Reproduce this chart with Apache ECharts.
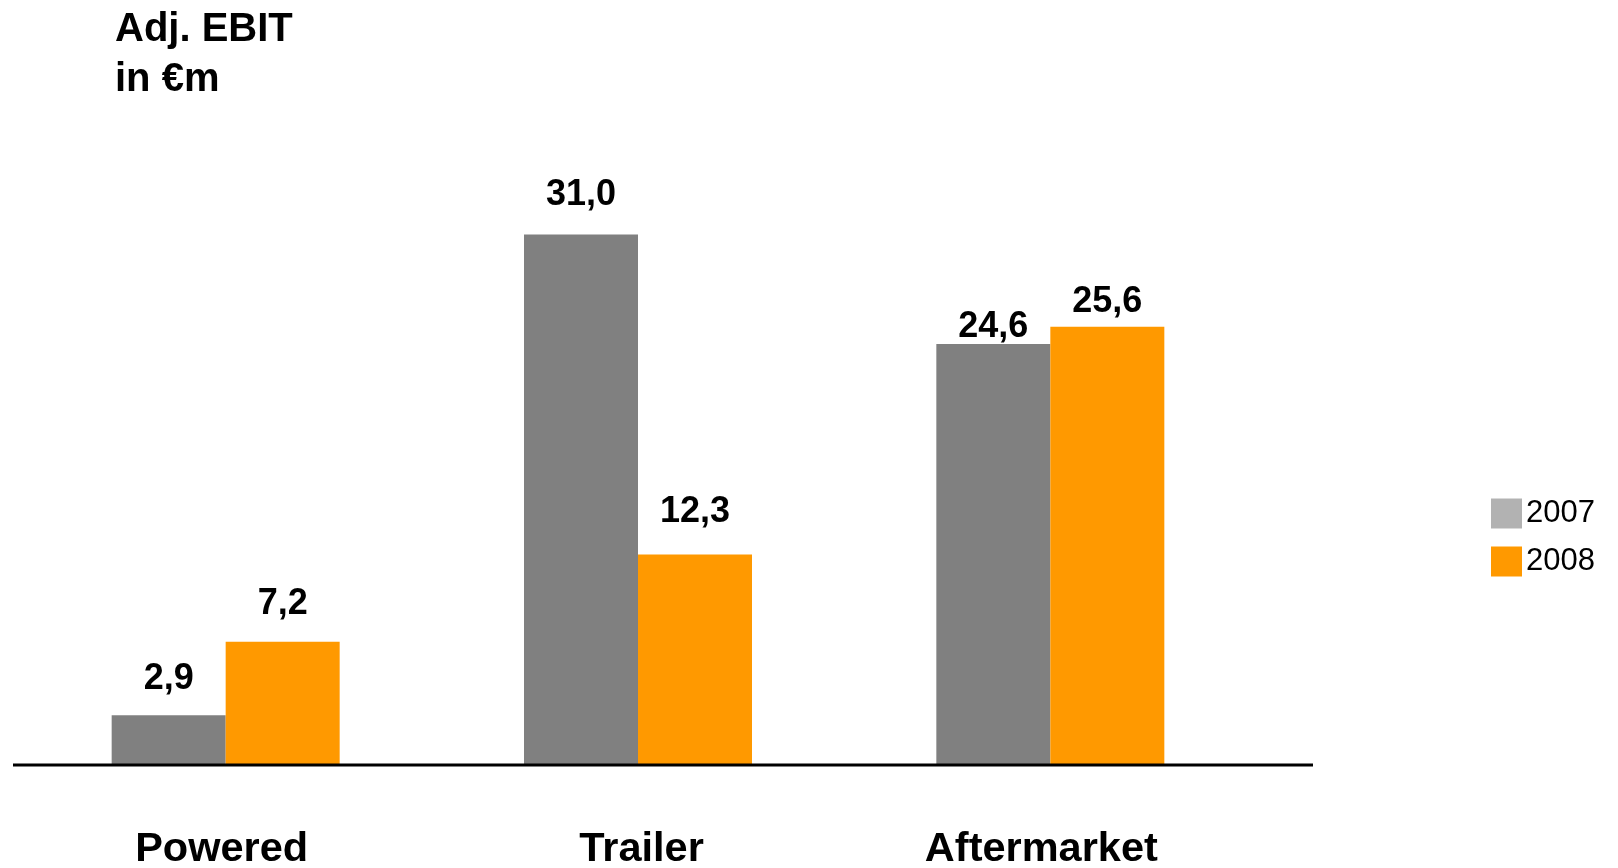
<!DOCTYPE html>
<html>
<head>
<meta charset="utf-8">
<title>Adj. EBIT in €m</title>
<script src="https://cdn.jsdelivr.net/npm/echarts@6/dist/echarts.min.js"></script>
<style>
  html, body { margin: 0; padding: 0; background: #fff; }
  #chart { width: 1618px; height: 868px; }
</style>
</head>
<body>
<div id="chart"></div>
<script>
// Segment results, adjusted EBIT in € million
const categories = ['Powered', 'Trailer', 'Aftermarket'];
const years = ['2007', '2008'];
const ebit2007 = [2.9, 31.0, 24.6];
const ebit2008 = [7.2, 12.3, 25.6];

// Layout and styling
const FONT = '"Liberation Sans", Arial, Helvetica, sans-serif';
const GRID = { left: 19.5, right: 361.5, top: 166, bottom: 103, outerBoundsMode: 'none' };
const BAR_COLORS = ['#808080', '#FF9900'];
const LEGEND_COLORS = ['#B2B2B2', '#FF9900'];
// distance of each value label above its bar, per series and category
const LABEL_GAPS = [[18, 21.5, -1.5], [20, 24, 6.5]];
// small horizontal nudges of the category names (padding around the text)
const CATEGORY_PADDING = [[0, 8, 0, 0], [0, 0, 0, 7], [0, 18, 0, 0]];

const fmt = v => v.toFixed(1).replace('.', ',');

function makeSeries(name, values, idx) {
  return {
    name: name,
    type: 'bar',
    barWidth: 114,
    barGap: '0%',
    itemStyle: { color: BAR_COLORS[idx] },
    data: values.map((v, i) => ({
      value: v,
      label: { distance: LABEL_GAPS[idx][i] }
    })),
    label: {
      show: true,
      position: 'top',
      formatter: p => fmt(p.value),
      fontFamily: FONT,
      fontWeight: 'bold',
      fontSize: 36,
      color: '#000'
    }
  };
}

const chart = echarts.init(document.getElementById('chart'), null, { renderer: 'canvas' });
const axisY = 868 - GRID.bottom;

chart.setOption({
  animation: false,
  backgroundColor: '#ffffff',
  title: {
    text: 'Adj. EBIT\nin €m',
    left: 115,
    top: 5,
    padding: 0,
    textStyle: {
      fontFamily: FONT,
      fontWeight: 'bold',
      fontSize: 40,
      lineHeight: 50,
      color: '#000'
    }
  },
  legend: {
    orient: 'vertical',
    left: 1491,
    top: 498,
    padding: 0,
    itemWidth: 31,
    itemHeight: 30,
    itemGap: 17,
    icon: 'rect',
    data: years.map((y, i) => ({ name: y, itemStyle: { color: LEGEND_COLORS[i] } })),
    textStyle: { fontFamily: FONT, fontSize: 31, color: '#000', padding: [0, 0, 0, -1] }
  },
  grid: GRID,
  xAxis: {
    type: 'category',
    data: categories.map((c, i) => ({ value: c, textStyle: { padding: CATEGORY_PADDING[i] } })),
    axisLine: { show: false },
    axisTick: { show: false },
    axisLabel: {
      margin: 64,
      fontFamily: FONT,
      fontWeight: 'bold',
      fontSize: 41.5,
      color: '#000'
    }
  },
  yAxis: {
    type: 'value',
    min: 0,
    max: 35,
    show: false,
    splitLine: { show: false }
  },
  graphic: [{
    type: 'line',
    shape: { x1: 13, y1: axisY, x2: 1313, y2: axisY },
    style: { stroke: '#000', lineWidth: 3 },
    z: 10
  }],
  series: [
    makeSeries(years[0], ebit2007, 0),
    makeSeries(years[1], ebit2008, 1)
  ]
});
</script>
</body>
</html>
